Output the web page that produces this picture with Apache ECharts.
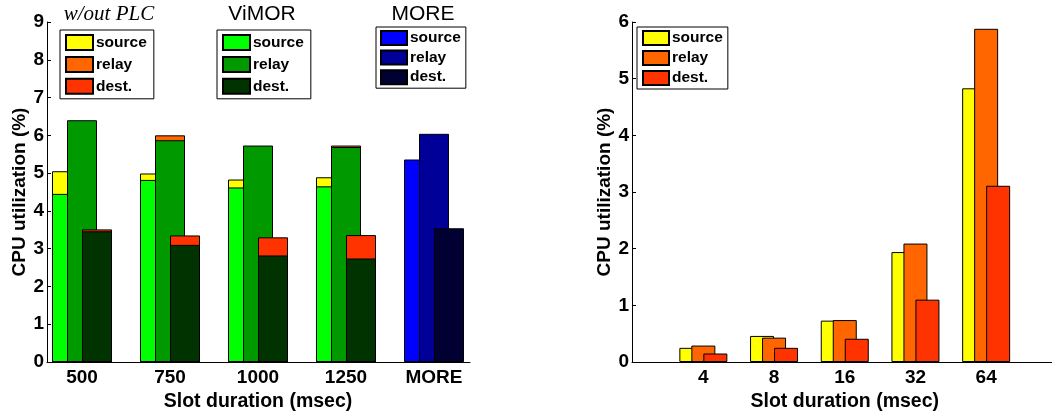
<!DOCTYPE html>
<html><head><meta charset="utf-8">
<script src="https://cdn.jsdelivr.net/npm/echarts@6/dist/echarts.min.js"></script>
<style>html,body{margin:0;padding:0;background:#fff}#c{width:1052px;height:411px}</style>
</head><body><div id="c"></div>
<script>
// ---- data (left chart: slot durations, CPU %) ----
const slotLabels = ['500', '750', '1000', '1250', 'MORE'];
const plcSource   = [5.05, 4.99, 4.83, 4.89, null];
const plcRelay    = [6.38, 6.00, 5.71, 5.73, null];
const plcDest     = [3.51, 3.35, 3.30, 3.36, null];
const vimorSource = [4.45, 4.82, 4.62, 4.65, null];
const vimorRelay  = [6.40, 5.87, 5.73, 5.69, null];
const vimorDest   = [3.46, 3.10, 2.82, 2.74, null];
const moreSource  = [null, null, null, null, 5.36];
const moreRelay   = [null, null, null, null, 6.04];
const moreDest    = [null, null, null, null, 3.54];
// ---- data (right chart) ----
const smallSlots  = ['4', '8', '16', '32', '64'];
const smallSource = [0.25, 0.46, 0.73, 1.94, 4.83];
const smallRelay  = [0.29, 0.43, 0.74, 2.09, 5.88];
const smallDest   = [0.15, 0.25, 0.41, 1.10, 3.11];
const leftTicks = 9, rightTicks = 6;

const FONT = "'Liberation Sans', Arial, Helvetica, sans-serif";
const bold = (s) => ({fontFamily: FONT, fontWeight: 'bold', fontSize: s, color: '#000'});

function bars(name, data, color, xi, yi, width) {
  return {
    type: 'bar', name: name, data: data.map(v => v == null ? '-' : v),
    xAxisIndex: xi, yAxisIndex: yi, barWidth: width, barGap: '-50%',
    itemStyle: {color: color, borderColor: '#000', borderWidth: 1},
    emphasis: {disabled: true}, silent: true
  };
}
function legendBox(names, left, top, w, h, gap, pad) {
  return {
    data: names, left: left, top: top, orient: 'vertical', icon: 'rect',
    itemWidth: w, itemHeight: h, itemGap: gap, padding: pad,
    borderColor: '#000', borderWidth: 1, backgroundColor: '#fff',
    selectedMode: false,
    textStyle: Object.assign(bold(15.5), {padding: [0, 0, 0, -2]}),
    formatter: n => n.split('|')[1]
  };
}
const hiddenCat = (g, d) => ({type: 'category', gridIndex: g, data: d, show: false});
const lineAxisX = (g) => ({type: 'value', gridIndex: g, min: 0, max: 1,
  axisLine: {show: true, onZero: false, lineStyle: {color: '#000', width: 1}},
  axisTick: {show: false}, axisLabel: {show: false}, splitLine: {show: false}});
const visY = (g, max, gap) => ({type: 'value', gridIndex: g, min: 0, max: max, interval: 1,
  axisLine: {show: true, lineStyle: {color: '#000', width: 1}},
  axisTick: {show: true, inside: true, length: 4, lineStyle: {color: '#000'}},
  axisLabel: Object.assign(bold(19), {margin: 3}), splitLine: {show: false},
  name: 'CPU utilization (%)', nameLocation: 'middle', nameRotate: 90, nameGap: gap,
  nameTextStyle: bold(19)});
const hidY = (g, max) => ({type: 'value', gridIndex: g, min: 0, max: max, show: false});
const catX = (g, d) => ({type: 'category', gridIndex: g, data: d,
  axisLine: {show: false}, axisTick: {show: false},
  axisLabel: Object.assign(bold(19), {margin: 6}),
  name: 'Slot duration (msec)', nameLocation: 'middle', nameGap: 22,
  nameTextStyle: bold(19.5)});

const P = 'w/out PLC|', V = 'ViMOR|', M = 'MORE|', R = 'slot|';
const G = {top: 22, height: 340, outerBoundsMode: 'none', containLabel: false};
const option = {
  animation: false,
  backgroundColor: '#fff',
  grid: [
    Object.assign({left: 47, width: 423}, G),
    Object.assign({left: 38, width: 440}, G),
    Object.assign({left: 632, right: 0}, G),
    Object.assign({left: 668, width: 353.5}, G)
  ],
  xAxis: [
    lineAxisX(0),
    catX(1, slotLabels),
    hiddenCat(1, slotLabels),
    hiddenCat(1, slotLabels),
    lineAxisX(2),
    catX(3, smallSlots)
  ],
  yAxis: [visY(0, leftTicks, 18), hidY(1, leftTicks), visY(2, rightTicks, 17), hidY(3, rightTicks)],
  legend: [
    legendBox([P + 'source', P + 'relay', P + 'dest.'], 60, 30, 27, 15, 4.9, [4, 7, 4, 5]),
    legendBox([V + 'source', V + 'relay', V + 'dest.'], 217, 30, 27, 15, 4.9, [4, 7, 4, 5]),
    legendBox([M + 'source', M + 'relay', M + 'dest.'], 376, 27, 26, 14, 3.6, [3, 5, 3, 4]),
    legendBox([R + 'source', R + 'relay', R + 'dest.'], 637, 27, 26, 14, 4, [3, 5, 3, 5])
  ],
  graphic: [
    {type: 'text', x: 109, y: 14, style: {text: 'w/out PLC', font: 'italic 21px "Liberation Serif", "Times New Roman", serif', fill: '#000', align: 'center', verticalAlign: 'middle', textAlign: 'center', textVerticalAlign: 'middle'}},
    {type: 'text', x: 262, y: 14, style: {text: 'ViMOR', font: '21px ' + FONT, fill: '#000', align: 'center', verticalAlign: 'middle', textAlign: 'center', textVerticalAlign: 'middle'}},
    {type: 'text', x: 423, y: 14, style: {text: 'MORE', font: '21px ' + FONT, fill: '#000', align: 'center', verticalAlign: 'middle', textAlign: 'center', textVerticalAlign: 'middle'}}
  ],
  series: [
    bars(P + 'source', plcSource, '#ffff00', 1, 1, 30),
    bars(V + 'source', vimorSource, '#00ff00', 2, 1, 30),
    bars(M + 'source', moreSource, '#0000ff', 3, 1, 30),
    bars(P + 'relay', plcRelay, '#ff6600', 1, 1, 30),
    bars(V + 'relay', vimorRelay, '#009900', 2, 1, 30),
    bars(M + 'relay', moreRelay, '#000099', 3, 1, 30),
    bars(P + 'dest.', plcDest, '#ff3300', 1, 1, 30),
    bars(V + 'dest.', vimorDest, '#003300', 2, 1, 30),
    bars(M + 'dest.', moreDest, '#000033', 3, 1, 30),
    bars(R + 'source', smallSource, '#ffff00', 5, 3, 24),
    bars(R + 'relay', smallRelay, '#ff6600', 5, 3, 24),
    bars(R + 'dest.', smallDest, '#ff3300', 5, 3, 24)
  ]
};
const chart = echarts.init(document.getElementById('c'), null, {renderer: 'canvas'});
chart.setOption(option);
</script>
</body></html>
